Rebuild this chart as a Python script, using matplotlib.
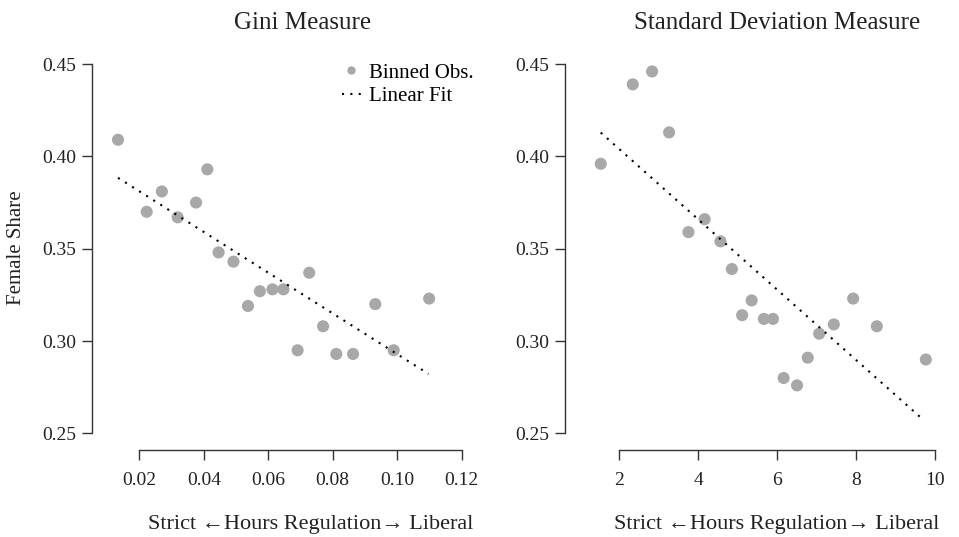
"""Binned female share against hours regulation, Gini and SD measures."""

import matplotlib
matplotlib.use("Agg")
import matplotlib.pyplot as plt
from matplotlib.lines import Line2D

plt.rcParams['font.family'] = ['Liberation Serif', 'DejaVu Serif']

# Gini measure panel
gini_x = [0.0134, 0.0223, 0.0270, 0.0319, 0.0376, 0.0411, 0.0446, 0.0492,
          0.0537, 0.0574, 0.0613, 0.0647, 0.0727, 0.0691, 0.0770, 0.0811,
          0.0863, 0.0932, 0.0989, 0.1099]
gini_y = [0.409, 0.370, 0.381, 0.367, 0.375, 0.393, 0.348, 0.343,
          0.319, 0.327, 0.328, 0.328, 0.337, 0.295, 0.308, 0.293,
          0.293, 0.320, 0.295, 0.323]
gini_fit_x = [0.0134, 0.1097]
gini_fit_y = [0.3884, 0.2822]

# Standard deviation measure panel
sd_x = [1.53, 2.34, 2.83, 3.26, 3.75, 4.16, 4.56, 4.85, 5.11, 5.35,
        5.66, 5.89, 6.16, 6.50, 6.77, 7.06, 7.43, 7.92, 8.52, 9.76]
sd_y = [0.396, 0.439, 0.446, 0.413, 0.359, 0.366, 0.354, 0.339, 0.314, 0.322,
        0.312, 0.312, 0.280, 0.276, 0.291, 0.304, 0.309, 0.323, 0.308, 0.290]
sd_fit_x = [1.53, 9.63]
sd_fit_y = [0.4129, 0.2586]

y_ticks = [0.25, 0.30, 0.35, 0.40, 0.45]
y_labels = ["0.25", "0.30", "0.35", "0.40", "0.45"]
gini_ticks = [0.02, 0.04, 0.06, 0.08, 0.10, 0.12]
gini_labels = ["0.02", "0.04", "0.06", "0.08", "0.10", "0.12"]
sd_ticks = [2, 4, 6, 8, 10]
sd_labels = ["2", "4", "6", "8", "10"]

DOT = '#a8a8a8'
INK = '#222222'
XLABEL = "Strict \u2190Hours Regulation\u2192 Liberal"

fig = plt.figure(figsize=(9.59, 5.37), dpi=100)
W, H = 959., 537.


def make_axes(left_px, right_px):
    # axes spans from the y spine (left) to a bit past the last x tick
    return fig.add_axes([left_px / W, (H - 450) / H,
                         (right_px - left_px) / W, 390 / H])


def style(ax, xticks, xlabels, xlim, title, title_x, xlabel_x):
    ax.set_xlim(xlim)
    ax.set_ylim(0.241, 0.4522)
    for s in ['top', 'right']:
        ax.spines[s].set_visible(False)
    for s in ['left', 'bottom']:
        ax.spines[s].set_color('#333333')
        ax.spines[s].set_linewidth(1.0)
    ax.spines['left'].set_bounds(0.25, 0.45)
    ax.spines['bottom'].set_bounds(xticks[0], xticks[-1])
    ax.set_yticks(y_ticks)
    ax.set_yticklabels(y_labels)
    ax.set_xticks(xticks)
    ax.set_xticklabels(xlabels)
    ax.tick_params(axis='y', direction='out', length=7.5, width=1.0,
                   color='#333333', labelsize=14, labelcolor=INK, pad=4)
    ax.tick_params(axis='x', direction='out', length=7.5, width=1.0,
                   color='#333333', labelsize=14, labelcolor=INK, pad=8)
    ax.text(title_x, 1.095, title, transform=ax.get_xaxis_transform(),
            ha='center', va='center', fontsize=18, color=INK)
    ax.set_xlabel(XLABEL, fontsize=16, color=INK, va='center')
    ax.xaxis.set_label_coords(xlabel_x, -0.19)


ax1 = make_axes(92, 465)
ax1.scatter(gini_x, gini_y, s=76, color=DOT, edgecolors='none', zorder=2)
ax1.plot(gini_fit_x, gini_fit_y, color='black', lw=1.5,
         linestyle=(0, (1, 3)), zorder=3)
style(ax1, gini_ticks, gini_labels, (0.00533, 0.12102),
      "Gini Measure", 0.0707, 0.585)

handles = [Line2D([], [], marker='o', ls='none', color=DOT, markersize=5),
           Line2D([], [], color='black', lw=1.5, linestyle=(0, (1, 3)))]
ax1.legend(handles, ["Binned Obs.", "Linear Fit"], loc='upper left',
           bbox_to_anchor=((342 - 92) / 373., (450 - 63) / 390.),
           frameon=False, fontsize=15, handlelength=0.9, handletextpad=0.4,
           borderpad=0, borderaxespad=0, labelspacing=0.2)

ax2 = make_axes(565, 940)
ax2.scatter(sd_x, sd_y, s=76, color=DOT, edgecolors='none', zorder=2)
ax2.plot(sd_fit_x, sd_fit_y, color='black', lw=1.5,
         linestyle=(0, (1, 3)), zorder=3)
style(ax2, sd_ticks, sd_labels, (0.625, 10.119),
      "Standard Deviation Measure", 6.0, 0.565)

fig.text(17 / W, 1 - 248 / H, "Female Share", rotation=90, ha='center',
         va='center', fontsize=15, color=INK)

fig.savefig('out.png', dpi=100)
